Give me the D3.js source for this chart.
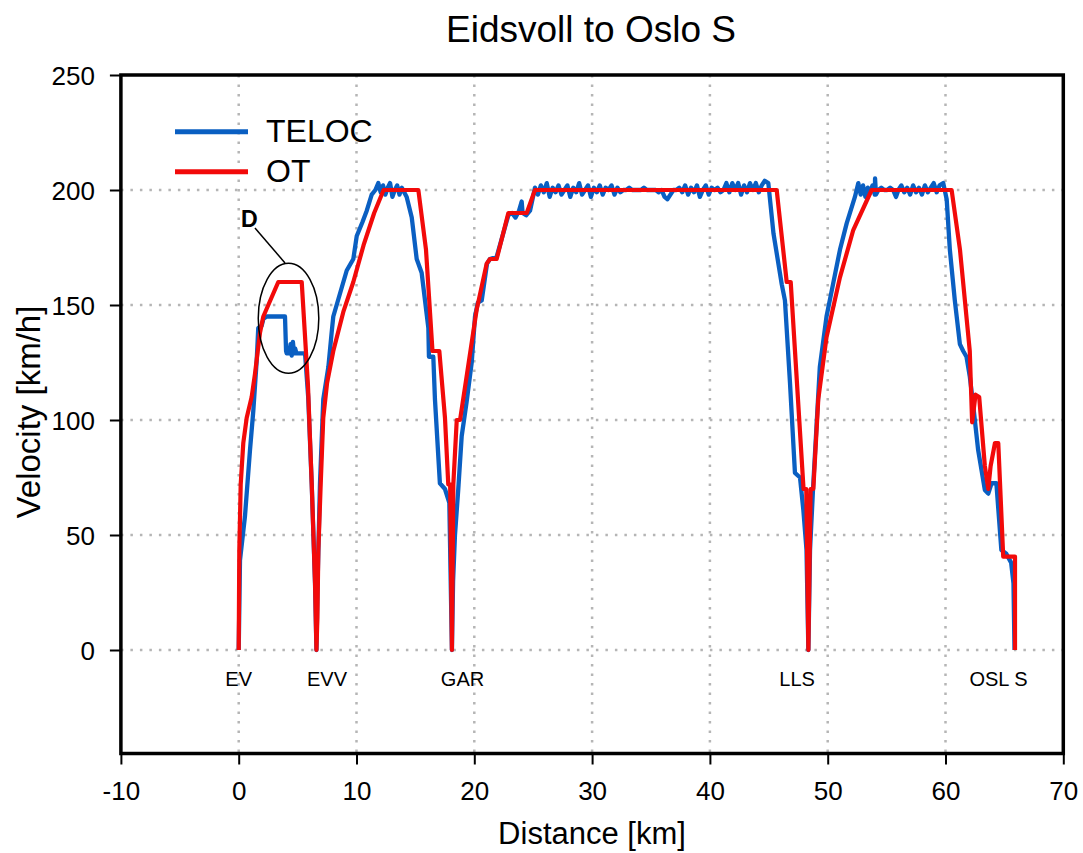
<!DOCTYPE html>
<html>
<head>
<meta charset="utf-8">
<script src="https://cdn.jsdelivr.net/npm/d3@7"></script>
<style>
  body { margin: 0; background: #fff; }
  text { font-family: Arial, "Liberation Sans", sans-serif; fill: #000; }
</style>
</head>
<body>
<svg id="chart" width="1083" height="853"></svg>
<script>
// ---------------- DATA ----------------
const chartTitle = "Eidsvoll to Oslo S";
const xLabel = "Distance [km]";
const yLabel = "Velocity [km/h]";
const xTicks = [-10, 0, 10, 20, 30, 40, 50, 60, 70];
const yTicks = [0, 50, 100, 150, 200, 250];
const gridX = [0, 10, 20, 30, 40, 50, 60];
const gridY = [0, 50, 100, 150, 200];
const seriesNames = ["TELOC", "OT"];
const stationNames = ["EV", "EVV", "GAR", "LLS", "OSL S"];
const stationLabelKm = [0, 7.5, 19.0, 47.4, 64.5];
const annotationLabel = "D";
const annotationCenter = [4.23, 144.2];      // km, km/h
const annotationRadii = [2.57, 23.9];        // km, km/h
const annotationLabelAt = [0.9, 184];
const annotationLeader = [[1.38, 183.5], [3.93, 168.3]];

// OT (red) : [km, km/h]
const otPoints = [
  [0,0],[0.05,43],[0.17,72],[0.39,90],[0.68,101],[1.1,110],[1.38,120],[1.81,138],[2.09,145],
  [3.36,160],[5.35,160],[5.6,139],[5.88,115],[6.2,72],[6.48,29],[6.6,0],
  [6.68,14],[6.76,43],[6.96,72],[7.18,101],[7.5,116],[8.03,130],[8.88,147],[9.73,160],[10.6,176],
  [11.5,190],[12.3,200],[15.25,200],[15.9,174],[16.45,130],[17.03,130],[17.51,101],[17.79,72],
  [17.95,72],[18.1,0],[18.22,72],[18.51,100],[18.79,100],[19.35,119],[20.2,148],[21.05,168],
  [21.33,170],[21.9,170],[22.89,190],[24.45,190],[25.15,200],[45.67,200],[46.52,160],[46.86,160],
  [47.95,70],[48.18,70],[48.36,0],[48.55,70],[48.78,70],[49.2,109],[49.9,136],[51.04,162],
  [52.17,182.6],[53.73,200],[60.52,200],[61.23,174],[62.06,130],[62.26,99],[62.55,111],[62.86,110],
  [63.34,80],[63.63,70],[63.83,80],[64.2,90],[64.48,90],[64.9,40.6],[65.9,40.6],[65.9,0]
];

// TELOC (blue) : [km, km/h]
const telocPoints = [
  [0,0],[0.11,39],[0.53,58],[0.96,87],[1.24,104],[1.53,126],[1.66,140],[1.95,141],[2.1,144],[2.38,145],
  [3.93,145],[4.02,130],[4.07,129],[4.2,131],[4.3,129],[4.4,133],[4.5,128],[4.6,134],[4.7,129],
  [4.8,131],[4.9,129],[5.2,129],[5.63,129],[5.9,110],[6.2,72],[6.48,29],[6.6,0],
  [6.7,30],[6.9,72.5],[7.18,109],[7.61,123],[7.89,138],[8.03,145],[8.6,155],[9.17,165],[9.73,170],
  [10.02,180],[10.5,186],[10.87,191],[11.29,198],[11.6,200],
  [11.85,203],[12.05,199],[12.25,202],[12.45,198],[12.65,201],[12.85,203],[13.05,197],[13.25,200],
  [13.45,202],[13.65,198],[13.85,201],[14.05,199],[14.26,197],
  [14.69,188],[15.11,170],[15.53,164],[16.1,140],[16.15,127.5],[16.52,127.5],[16.66,109],[17.08,72.5],
  [17.51,70],[17.88,64],[18.1,0],
  [18.2,30],[18.36,50],[18.64,70],[18.93,93],[19.35,108],[19.78,125],[20.06,145],[20.3,151],[20.63,152],
  [21.08,168],[21.33,170],[21.9,171],[22.89,189],[23.2,190],[23.5,188],[23.8,191],[24.02,195],[24.1,190],
  [24.4,189],[24.73,191],
  [25.15,201],[25.4,198],[25.65,202],[25.9,199],[26.15,203],[26.4,197],[26.65,201],[26.9,199],[27.15,202],
  [27.4,198],[27.65,200],[27.9,202],[28.15,197],[28.4,201],[28.65,199],[28.9,203],[29.15,198],[29.4,200],
  [29.65,202],[29.9,197],[30.15,201],[30.4,199],[30.65,202],[30.9,198],[31.15,201],[31.4,200],[31.65,202],
  [31.9,198],[32.15,201],[32.4,199],[32.65,200],[32.9,200],[33.15,201],[33.4,200],[33.65,200],[33.9,200],
  [34.15,200],[34.4,201],[34.65,200],[34.9,200],[35.15,200],[35.4,200],[35.65,199],[35.9,200],[36.15,197],
  [36.4,196],[36.65,198],[36.9,200],[37.15,200],[37.4,201],[37.65,199],[37.9,202],[38.15,198],[38.4,201],
  [38.65,199],[38.9,202],[39.15,197],[39.4,200],[39.65,202],[39.9,198],[40.15,201],[40.4,200],[40.65,201],
  [40.9,199],[41.15,200],[41.4,203],[41.65,199],[41.9,203],[42.15,200],[42.4,203],[42.65,198],[42.9,202],
  [43.15,199],[43.4,203],[43.65,200],[43.9,203],[44.15,199],[44.4,202],[44.65,204],[44.96,203],
  [45.4,181],[46.1,159],[46.37,152],[46.8,116],[47.22,77],[47.65,75],[47.93,61],[48.2,43.5],[48.36,0],
  [48.5,43.5],[48.78,72.5],[49.33,123],[49.9,145],[50.45,159],[51.04,174],[51.61,185.5],[52.31,197],
  [52.6,203],[52.8,198],[53.0,202],[53.2,197],[53.4,201],[53.6,199],[53.8,202],[54.0,198],[54.02,205],
  [54.1,198],[54.3,200],[54.55,201],[54.8,200],[55.05,200],[55.3,201],[55.55,200],[55.8,197],[56.0,200],
  [56.25,202],[56.5,199],[56.75,201],[57.0,198],[57.25,202],[57.5,199],[57.75,201],[58.0,198],[58.25,202],
  [58.5,199],[58.75,201],[59.0,203],[59.25,199],[59.5,202],[59.81,203],
  [60.1,196],[60.37,174],[60.79,152],[61.22,133],[61.5,130],[61.78,127.5],[62.06,119],[62.34,107],
  [62.77,87],[63.34,69.6],[63.63,68],[63.91,72.5],[64.32,72.5],[64.74,43.5],[65.14,42],[65.57,38],
  [65.77,29],[65.86,0]
];

const seriesColors = ["#0a5fc2", "#f20a0a"];

// ---------------- LAYOUT ----------------
const svg = d3.select("#chart");
const plotLeft = 120.9, plotRight = 1063.3, plotTop = 75, plotBottom = 753.5;
const x = d3.scaleLinear().domain([-10, 70]).range([plotLeft, plotRight]);
const y = d3.scaleLinear().domain([-45, 250]).range([plotBottom, plotTop]);

// grid
const grid = svg.append("g");
grid.selectAll(".gx").data(gridX).enter().append("line")
  .attr("x1", d => x(d)).attr("x2", d => x(d)).attr("y1", plotTop).attr("y2", plotBottom)
  .attr("stroke", "#b5b5b5").attr("stroke-width", 2.5).attr("stroke-dasharray", "2.5,7");
grid.selectAll(".gy").data(gridY).enter().append("line")
  .attr("y1", d => y(d)).attr("y2", d => y(d)).attr("x1", plotLeft).attr("x2", plotRight)
  .attr("stroke", "#b5b5b5").attr("stroke-width", 2.5).attr("stroke-dasharray", "2.5,7");

// lines
const line = d3.line().x(d => x(d[0])).y(d => y(d[1])).curve(d3.curveLinear);
svg.append("path").datum(telocPoints).attr("d", line)
  .attr("fill", "none").attr("stroke", seriesColors[0]).attr("stroke-width", 4.3).attr("stroke-linejoin", "round");
svg.append("path").datum(otPoints).attr("d", line)
  .attr("fill", "none").attr("stroke", seriesColors[1]).attr("stroke-width", 4.2).attr("stroke-linejoin", "round");

// station labels
svg.selectAll(".st").data(stationNames).enter().append("text")
  .attr("x", (d, i) => x(stationLabelKm[i])).attr("y", 686)
  .attr("text-anchor", "middle").attr("font-size", 20).text(d => d);

// annotation
svg.append("ellipse")
  .attr("cx", x(annotationCenter[0])).attr("cy", y(annotationCenter[1]))
  .attr("rx", x(annotationRadii[0]) - x(0)).attr("ry", y(0) - y(annotationRadii[1]))
  .attr("fill", "none").attr("stroke", "#000").attr("stroke-width", 1.5);
svg.append("line")
  .attr("x1", x(annotationLeader[0][0])).attr("y1", y(annotationLeader[0][1]))
  .attr("x2", x(annotationLeader[1][0])).attr("y2", y(annotationLeader[1][1]))
  .attr("stroke", "#000").attr("stroke-width", 1.5);
svg.append("text").attr("x", x(annotationLabelAt[0])).attr("y", y(annotationLabelAt[1]))
  .attr("text-anchor", "middle").attr("font-size", 26).attr("font-weight", "bold")
  .style("font-family", "Calibri, Carlito, 'Open Sans', Arial, sans-serif").text(annotationLabel);

// frame
svg.append("rect").attr("x", plotLeft).attr("y", plotTop).attr("width", plotRight - plotLeft).attr("height", plotBottom - plotTop)
  .attr("fill", "none").attr("stroke", "#000").attr("stroke-width", 3.5);

// axes
const fmt = d => String(d);
const yAxis = svg.append("g").attr("transform", `translate(${plotLeft},0)`)
  .call(d3.axisLeft(y).tickValues(yTicks).tickSize(11).tickPadding(15).tickFormat(fmt));
yAxis.select(".domain").remove();
yAxis.selectAll(".tick line").attr("stroke", "#000").attr("stroke-width", 2);
yAxis.selectAll(".tick text").attr("font-size", 26).attr("dy", "0.36em")
  .style("font-family", "Arial, 'Liberation Sans', sans-serif").attr("fill", "#000");

const xAxis = svg.append("g").attr("transform", `translate(0,${plotBottom})`)
  .call(d3.axisBottom(x).tickValues(xTicks).tickSize(11).tickPadding(17).tickFormat(fmt));
xAxis.select(".domain").remove();
xAxis.selectAll(".tick line").attr("stroke", "#000").attr("stroke-width", 2);
xAxis.selectAll(".tick text").attr("font-size", 26)
  .style("font-family", "Arial, 'Liberation Sans', sans-serif").attr("fill", "#000");

// titles
svg.append("text").attr("x", 591).attr("y", 42).attr("text-anchor", "middle")
  .attr("font-size", 37).text(chartTitle);
svg.append("text").attr("x", 592).attr("y", 844).attr("text-anchor", "middle")
  .attr("font-size", 31).text(xLabel);
svg.append("text").attr("transform", "translate(40,412) rotate(-90)").attr("text-anchor", "middle")
  .attr("font-size", 33).text(yLabel);

// legend
const legendY = [131.7, 171.7];
const lg = svg.append("g");
seriesNames.forEach((name, i) => {
  lg.append("line").attr("x1", 175).attr("x2", 248).attr("y1", legendY[i]).attr("y2", legendY[i])
    .attr("stroke", seriesColors[i]).attr("stroke-width", 5);
  lg.append("text").attr("x", 266).attr("y", legendY[i] + 10.5).attr("font-size", 32).text(name);
});
</script>
</body>
</html>
